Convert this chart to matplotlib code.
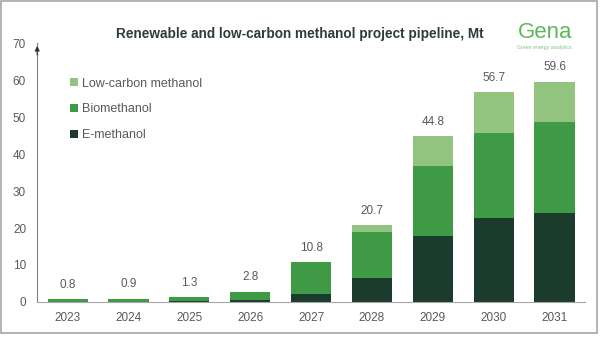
import matplotlib.pyplot as plt
import numpy as np
from matplotlib.patches import Rectangle

plt.rcParams['font.family'] = ['Liberation Sans', 'DejaVu Sans']

years = ['2023', '2024', '2025', '2026', '2027', '2028', '2029', '2030', '2031']
e_methanol = [0.0, 0.0, 0.2, 0.6, 2.1, 6.4, 17.8, 22.8, 24.0]
biomethanol = [0.8, 0.9, 1.1, 2.2, 8.7, 12.5, 19.0, 22.8, 24.7]
low_carbon = [0.0, 0.0, 0.0, 0.0, 0.0, 1.8, 8.0, 11.1, 10.9]
totals = [0.8, 0.9, 1.3, 2.8, 10.8, 20.7, 44.8, 56.7, 59.6]

c_dark = '#1b3b2d'
c_mid = '#3f9a45'
c_light = '#93c47f'
gray = '#595959'

fig = plt.figure(figsize=(6, 3.37), dpi=100)
ax = fig.add_axes([0.062, 0.104, 0.913, 0.768])

x = np.arange(len(years))
w = 0.66
e = np.array(e_methanol)
b = np.array(biomethanol)
l = np.array(low_carbon)
ax.bar(x, e, w, color=c_dark, label='E-methanol')
ax.bar(x, b, w, bottom=e, color=c_mid, label='Biomethanol')
ax.bar(x, l, w, bottom=e + b, color=c_light, label='Low-carbon methanol')

for xi, t in zip(x, totals):
    ax.text(xi, t + 2.2, f'{t:.1f}', ha='center', va='bottom', fontsize=8.5, color=gray)

ax.set_xlim(-0.5, 8.5)
ax.set_ylim(0, 70)
ax.set_yticks(range(0, 71, 10))
ax.set_xticks(x)
ax.set_xticklabels(years)
ax.tick_params(axis='both', length=0, labelsize=8.5, labelcolor=gray)
ax.tick_params(axis='y', pad=8)
ax.tick_params(axis='x', pad=7)
for s in ['top', 'right']:
    ax.spines[s].set_visible(False)
ax.spines['left'].set_color('#7f7f7f')
ax.spines['bottom'].set_color('#a6a6a6')
ax.annotate('', xy=(-0.5, 70), xytext=(-0.5, 66), xycoords='data',
            arrowprops=dict(arrowstyle='-|>', color='#333333', lw=0.8, mutation_scale=7),
            annotation_clip=False)

handles, labels = ax.get_legend_handles_labels()
ax.legend(handles[::-1], labels[::-1], loc='upper left', bbox_to_anchor=(0.04, 0.91),
          frameon=False, fontsize=9, labelcolor=gray, handlelength=0.6, handleheight=0.6,
          handletextpad=0.3, labelspacing=1.1)

fig.text(0.5, 0.9, 'Renewable and low-carbon methanol project pipeline, Mt',
         ha='center', va='center', fontsize=9.8, fontweight='bold', color='#2e3d36')
fig.text(0.908, 0.905, 'Gena', ha='center', va='center', fontsize=16, color='#5cb85c')
fig.text(0.908, 0.858, 'Green energy analytics', ha='center', va='center', fontsize=3.8, color='#7cc47c')

fig.patches.append(Rectangle((0.002, 0.012), 0.993, 0.985, transform=fig.transFigure,
                             fill=False, edgecolor='#a6a6a6', lw=1.2))

fig.savefig('out.png', dpi=100)
